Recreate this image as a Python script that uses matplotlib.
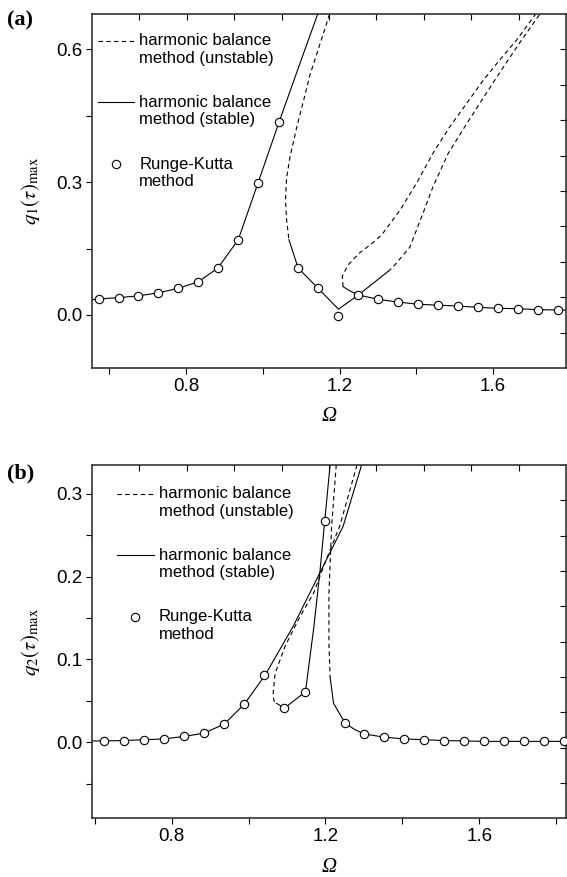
import numpy as np
import matplotlib
matplotlib.use("Agg")
import matplotlib.pyplot as plt

# ------------------------------------------------------------
# Panel (a): q1(tau)_max vs Omega
# ------------------------------------------------------------
a_rk_x = [0.572, 0.624, 0.676, 0.728, 0.780, 0.832, 0.883, 0.936, 0.987, 1.042,
          1.092, 1.144, 1.197, 1.249, 1.301, 1.353, 1.405, 1.457, 1.509, 1.561,
          1.612, 1.664, 1.717, 1.769]
a_rk_y = [0.036, 0.039, 0.043, 0.050, 0.060, 0.075, 0.106, 0.170, 0.297, 0.435,
          0.106, 0.060, -0.002, 0.045, 0.035, 0.029, 0.024, 0.022, 0.020, 0.017,
          0.015, 0.014, 0.012, 0.011]

# stable branches (solid)
a_s1_x = [0.555, 0.572, 0.624, 0.676, 0.728, 0.780, 0.832, 0.883, 0.936, 0.987,
          1.042, 1.092, 1.143]
a_s1_y = [0.034, 0.036, 0.039, 0.043, 0.050, 0.060, 0.075, 0.106, 0.170, 0.297,
          0.435, 0.557, 0.680]
a_s2_x = [1.068, 1.092, 1.144, 1.197, 1.249, 1.326]
a_s2_y = [0.170, 0.106, 0.060, 0.013, 0.045, 0.098]
a_s3_x = [1.209, 1.225, 1.249, 1.301, 1.353, 1.405, 1.457, 1.509, 1.561, 1.612,
          1.664, 1.717, 1.769, 1.790]
a_s3_y = [0.064, 0.055, 0.045, 0.035, 0.029, 0.024, 0.022, 0.020, 0.017, 0.015,
          0.014, 0.012, 0.011, 0.011]

# unstable branches (dashed)
a_u1_x = [1.174, 1.148, 1.122, 1.107, 1.090, 1.071, 1.062, 1.059, 1.062, 1.068]
a_u1_y = [0.680, 0.610, 0.540, 0.487, 0.430, 0.358, 0.310, 0.260, 0.215, 0.170]
a_u2_x = [1.326, 1.339, 1.383, 1.417, 1.443, 1.483, 1.526, 1.565, 1.604, 1.639,
          1.674, 1.722]
a_u2_y = [0.098, 0.108, 0.153, 0.229, 0.289, 0.365, 0.425, 0.478, 0.530, 0.576,
          0.621, 0.680]
a_u3_x = [1.209, 1.207, 1.222, 1.252, 1.285, 1.309, 1.357, 1.400, 1.443, 1.487,
          1.531, 1.574, 1.617, 1.661, 1.711]
a_u3_y = [0.064, 0.087, 0.113, 0.140, 0.162, 0.180, 0.236, 0.297, 0.365, 0.425,
          0.478, 0.530, 0.576, 0.621, 0.680]

# ------------------------------------------------------------
# Panel (b): q2(tau)_max vs Omega
# ------------------------------------------------------------
b_rk_x = [0.625, 0.677, 0.729, 0.781, 0.833, 0.885, 0.937, 0.989, 1.041, 1.093,
          1.148, 1.198, 1.251, 1.301, 1.353, 1.405, 1.457, 1.509, 1.561, 1.613,
          1.665, 1.717, 1.769, 1.821]
b_rk_y = [0.0016, 0.002, 0.003, 0.004, 0.007, 0.011, 0.022, 0.046, 0.081, 0.041,
          0.061, 0.267, 0.023, 0.010, 0.006, 0.004, 0.003, 0.002, 0.0015, 0.001,
          0.001, 0.001, 0.001, 0.001]

b_s1_x = [0.593, 0.625, 0.677, 0.729, 0.781, 0.833, 0.885, 0.937, 0.989, 1.043,
          1.116, 1.189, 1.246, 1.294]
b_s1_y = [0.0015, 0.0016, 0.002, 0.003, 0.004, 0.007, 0.011, 0.022, 0.046, 0.081,
          0.140, 0.208, 0.261, 0.335]
b_s2_x = [1.073, 1.093, 1.148, 1.170, 1.186, 1.198, 1.212]
b_s2_y = [0.047, 0.041, 0.061, 0.140, 0.208, 0.267, 0.335]
b_s3_x = [1.212, 1.221, 1.251, 1.277, 1.301, 1.353, 1.405, 1.457, 1.509, 1.561,
          1.613, 1.665, 1.717, 1.769, 1.826]
b_s3_y = [0.079, 0.047, 0.023, 0.015, 0.010, 0.006, 0.004, 0.003, 0.002, 0.0015,
          0.001, 0.001, 0.001, 0.001, 0.001]

b_u1_x = [1.282, 1.237, 1.198, 1.169, 1.134, 1.095, 1.069, 1.064, 1.066, 1.073]
b_u1_y = [0.335, 0.261, 0.216, 0.180, 0.152, 0.116, 0.083, 0.059, 0.050, 0.047]
b_u2_x = [1.228, 1.216, 1.209, 1.209, 1.212]
b_u2_y = [0.335, 0.261, 0.180, 0.120, 0.079]

LINE = dict(color='black', lw=0.8)
DASH = dict(color='black', lw=0.8, ls=(0, (4, 3)))
MARK = dict(ls='none', marker='o', ms=6, mfc='white', mec='black', mew=0.8)

LABELS = ['harmonic balance\nmethod (unstable)',
          'harmonic balance\nmethod (stable)',
          'Runge-Kutta\nmethod']

plt.rcParams['font.family'] = ['Liberation Sans', 'DejaVu Sans']
plt.rcParams['mathtext.fontset'] = 'stix'

fig = plt.figure(figsize=(5.67, 8.77), dpi=100)
ax_a = fig.add_axes([0.1623, 0.5804, 0.8360, 0.4036])
ax_b = fig.add_axes([0.1623, 0.0669, 0.8360, 0.4029])


def draw(ax, stable, unstable, rk):
    h_u = None
    for xs, ys in unstable:
        h_u, = ax.plot(xs, ys, **DASH)
    h_s = None
    for xs, ys in stable:
        h_s, = ax.plot(xs, ys, **LINE)
    h_rk, = ax.plot(rk[0], rk[1], zorder=3, **MARK)
    return [h_u, h_s, h_rk]


def style(ax, xlim, ylim, ymajor, yminor, ylabel, leg_anchor, handles):
    ax.set_xlim(*xlim)
    ax.set_ylim(*ylim)
    ax.set_xticks([0.8, 1.2, 1.6])
    ax.set_xticks(np.arange(0.6, xlim[1], 0.2), minor=True)
    ax.set_yticks(ymajor)
    ax.set_yticks(yminor, minor=True)
    ax.tick_params(which='both', direction='out', length=4, width=0.8,
                   labelsize=13.5, pad=3)
    ax.set_xlabel('Ω', fontsize=15, labelpad=9, family='Liberation Serif',
                  style='italic')
    ax.set_ylabel(ylabel, fontsize=15, labelpad=10)
    for s in ax.spines.values():
        s.set_linewidth(1.2)
        s.set_color('#333333')
    # top / right mirror axes (Origin-style, plain 0..1 scale)
    tx = ax.twiny()
    tx.set_xlim(0, 1)
    tx.set_xticks(np.arange(0.1, 0.95, 0.1))
    tx.tick_params(direction='in', length=4.5, width=0.8, labeltop=False)
    ty = ax.twinx()
    ty.set_ylim(0, 1)
    ty.set_yticks(np.arange(0.1, 0.95, 0.1))
    ty.tick_params(direction='in', length=4.5, width=0.8, labelright=False)
    for t in (tx, ty):
        for s in t.spines.values():
            s.set_visible(False)
    leg = ax.legend(handles, LABELS, loc='upper left', bbox_to_anchor=leg_anchor,
                    frameon=False, fontsize=12, handlelength=2.2,
                    handletextpad=0.3, labelspacing=1.75, borderpad=0,
                    borderaxespad=0)
    # put each legend key level with the first text line
    for lh in leg.legend_handles:
        lh.set_ydata(np.asarray(lh.get_ydata()) + 6.5)
    leg.set_zorder(10)


h = draw(ax_a,
         [(a_s1_x, a_s1_y), (a_s2_x, a_s2_y), (a_s3_x, a_s3_y)],
         [(a_u1_x, a_u1_y), (a_u2_x, a_u2_y), (a_u3_x, a_u3_y)],
         (a_rk_x, a_rk_y))
style(ax_a, (0.555, 1.790), (-0.12, 0.68), [0.0, 0.3, 0.6], [0.15, 0.45],
      r'$q_1(\tau)_{\mathrm{max}}$', (0.012, 0.945), h)

h = draw(ax_b,
         [(b_s1_x, b_s1_y), (b_s2_x, b_s2_y), (b_s3_x, b_s3_y)],
         [(b_u1_x, b_u1_y), (b_u2_x, b_u2_y)],
         (b_rk_x, b_rk_y))
style(ax_b, (0.593, 1.8255), (-0.092, 0.335), [0.0, 0.1, 0.2, 0.3],
      [-0.05, 0.05, 0.15, 0.25],
      r'$q_2(\tau)_{\mathrm{max}}$', (0.053, 0.94), h)

fig.text(0.012, 1 - 10 / 877, '(a)', va='top', ha='left', fontsize=16,
         fontweight='bold', family='Liberation Serif')
fig.text(0.012, 1 - 463 / 877, '(b)', va='top', ha='left', fontsize=16,
         fontweight='bold', family='Liberation Serif')

fig.savefig('out.png', dpi=100)
